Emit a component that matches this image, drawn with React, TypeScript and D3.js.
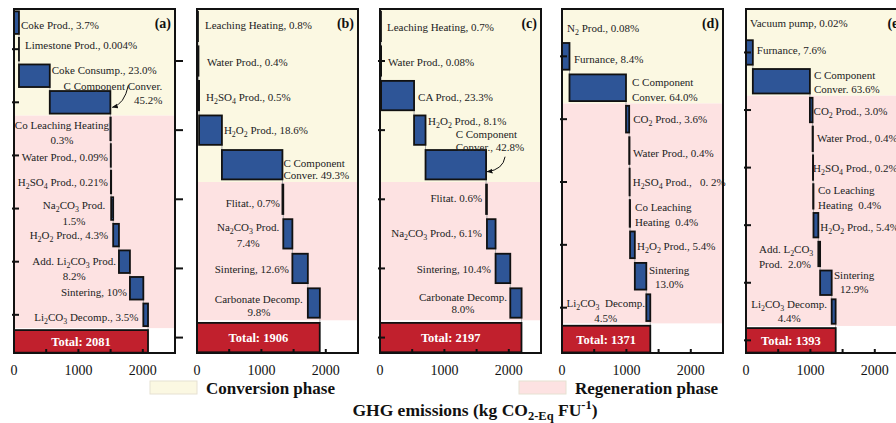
import React, { useEffect, useRef } from 'react';
import * as d3 from 'd3';

// ---- data ----
const aLabels = ['Coke Prod., 3.7%', 'Limestone Prod., 0.004%', 'Coke Consump., 23.0%', 'C Component Conver.\n45.2%', 'Co Leaching Heating\n0.3%', 'Water Prod., 0.09%', 'H2SO4 Prod., 0.21%', 'Na2CO3 Prod.\n1.5%', 'H2O2 Prod., 4.3%', 'Add. Li2CO3 Prod.\n8.2%', 'Sintering, 10%', 'Li2CO3 Decomp., 3.5%'];
const aPct = [3.7, 0.004, 23.0, 45.2, 0.3, 0.09, 0.21, 1.5, 4.3, 8.2, 10, 3.5];
const aTotal = 2081;
const aConv = 4;

const bLabels = ['Leaching Heating, 0.8%', 'Water Prod., 0.4%', 'H2SO4 Prod., 0.5%', 'H2O2 Prod., 18.6%', 'C Component\nConver. 49.3%', 'Flitat., 0.7%', 'Na2CO3 Prod.\n7.4%', 'Sintering, 12.6%', 'Carbonate Decomp.\n9.8%'];
const bPct = [0.8, 0.4, 0.5, 18.6, 49.3, 0.7, 7.4, 12.6, 9.8];
const bTotal = 1906;
const bConv = 5;

const cLabels = ['Leaching Heating, 0.7%', 'Water Prod., 0.08%', 'CA Prod., 23.3%', 'H2O2 Prod., 8.1%', 'C Component\nConver., 42.8%', 'Flitat. 0.6%', 'Na2CO3 Prod., 6.1%', 'Sintering, 10.4%', 'Carbonate Decomp.\n8.0%'];
const cPct = [0.7, 0.08, 23.3, 8.1, 42.8, 0.6, 6.1, 10.4, 8.0];
const cTotal = 2197;
const cConv = 5;

const dLabels = ['N2 Prod., 0.08%', 'Furnance, 8.4%', 'C Component\nConver. 64.0%', 'CO2 Prod., 3.6%', 'Water Prod., 0.4%', 'H2SO4 Prod.,   0. 2%', 'Co Leaching\nHeating  0.4%', 'H2O2 Prod., 5.4%', 'Sintering\n13.0%', 'Li2CO3  Decomp.\n4.5%'];
const dPct = [0.08, 8.4, 64.0, 3.6, 0.4, 0.2, 0.4, 5.4, 13.0, 4.5];
const dTotal = 1371;
const dConv = 3;

const eLabels = ['Vacuum pump, 0.02%', 'Furnance, 7.6%', 'C Component\nConver. 63.6%', 'CO2 Prod., 3.0%', 'Water Prod., 0.4%', 'H2SO4 Prod., 0.2%', 'Co Leaching\nHeating  0.4%', 'H2O2 Prod., 5.4%', 'Add. L2CO3\nProd.  2.0%', 'Sintering\n12.9%', 'Li2CO3 Decomp.\n4.4%'];
const ePct = [0.02, 7.6, 63.6, 3.0, 0.4, 0.2, 0.4, 5.4, 2.0, 12.9, 4.4];
const eTotal = 1393;
const eConv = 3;

const xTicks = [0, 500, 1000, 1500, 2000, 2500];
const xTickLabels = [0, 1000, 2000];

// ---- label placement: [side, gap, dy, lineHeight, align] ----
type Place = [string, number, number, number?, string?];
const aPlace: Place[] = [['R', 2, 6.4], ['R', 6, 0], ['R', 2, -1.7], ['M', 2.6, -12.3, 14, 'r'], ['L', 1.4, 0, 15, 'c'], ['L', 2.8, 5.6], ['L', 3, 4], ['L', 6, 0.5, 16, 'c'], ['L', 5, 4], ['L', 3, 3, 15, 'c'], ['L', 3, 7.5], ['L', 5, 6]];
const bPlace: Place[] = [['R', 7, 2.6], ['R', 8.5, 4.7], ['R', 7, 5.7], ['R', 2, 3.9], ['R', 1, 2, 12.5, 'l'], ['L', 2.4, 7.4], ['L', 4, -3.1, 16, 'c'], ['L', 3.4, 4.6], ['L', 5, 0, 13.3, 'c']];
const cPlace: Place[] = [['R', 6, 4.9], ['R', 7, 5.3], ['R', 4, 5.7], ['R', 2.5, -5.4], ['R', -30.4, -26.7, 13.3, 'l'], ['L', 4, 3], ['L', 5, 3.5], ['L', 4.6, 4.9], ['L', 3.3, -2.3, 12.7, 'c']];
const dPlace: Place[] = [['R', 5, 7.4], ['R', 4.5, 7], ['R', 6, -2, 15, 'l'], ['R', 4, 3.8], ['R', 3.5, 6.7], ['R', 3, 4.3], ['R', 5, -2.1, 14.3, 'l'], ['R', 2.2, 5.2], ['R', 2.7, -2.3, 14.3, 'c'], ['L', 1.3, -0.4, 14.3, 'c']];
const ePlace: Place[] = [['R', 4, 3.6], ['R', 4, 1.5], ['R', 4, -2.3, 14.3, 'l'], ['R', 1, 4.9], ['R', 4, 3.4], ['R', 0, 4.6], ['R', 4.5, -2.5, 15, 'l'], ['R', 2, 6], ['L', 5, -0.8, 14.7, 'l'], ['R', 2.3, -3.8, 14, 'c'], ['L', 4.7, -3.6, 14.3, 'c']];

const panels = [
  { tag: '(a)', labels: aLabels, pct: aPct, total: aTotal, nConv: aConv, place: aPlace, arrow: 3 },
  { tag: '(b)', labels: bLabels, pct: bPct, total: bTotal, nConv: bConv, place: bPlace, arrow: -1 },
  { tag: '(c)', labels: cLabels, pct: cPct, total: cTotal, nConv: cConv, place: cPlace, arrow: 4 },
  { tag: '(d)', labels: dLabels, pct: dPct, total: dTotal, nConv: dConv, place: dPlace, arrow: -1 },
  { tag: '(e)', labels: eLabels, pct: ePct, total: eTotal, nConv: eConv, place: ePlace, arrow: -1 },
];

const PANEL_X = [14, 197, 380, 562, 746];
const PW = 161;
const TOP = 9;
const BOTTOM = 353;
const FONT = '"Liberation Serif", "Times New Roman", serif';
const BLUE = '#2e5597';
const RED = '#c1202d';
const YELLOW = '#fbf8e2';
const PINK = '#fde2e2';

// digits right after a letter become subscripts (H2SO4, Li2CO3 ...)
function richText(sel: any, str: string) {
  const runs: { t: string; sub: boolean }[] = [];
  for (let i = 0; i < str.length; i++) {
    const ch = str[i];
    const sub = /\d/.test(ch) && i > 0 && /[A-Za-z]/.test(str[i - 1]);
    const last = runs[runs.length - 1];
    if (last && last.sub === sub) last.t += ch;
    else runs.push({ t: ch, sub });
  }
  let inSub = false;
  runs.forEach(r => {
    const ts = sel.append('tspan').text(r.t);
    if (r.sub) {
      ts.attr('dy', 3).attr('font-size', '0.72em');
      inSub = true;
    } else if (inSub) {
      ts.attr('dy', -3);
      inSub = false;
    }
  });
}

const App: React.FC = () => {
  const svgRef = useRef<SVGSVGElement>(null);

  useEffect(() => {
    if (!svgRef.current) return;
    const svg = d3.select(svgRef.current);
    svg.selectAll('*').remove();

    svg.append('defs').append('marker')
      .attr('id', 'arrowhead')
      .attr('viewBox', '0 0 10 10')
      .attr('refX', 9).attr('refY', 5)
      .attr('markerWidth', 6).attr('markerHeight', 6)
      .attr('orient', 'auto')
      .append('path').attr('d', 'M0,1 L10,5 L0,9 Z').attr('fill', '#111');

    panels.forEach((p, pi) => {
      const x0 = PANEL_X[pi];
      const x = d3.scaleLinear().domain([0, 2500]).range([x0, x0 + PW]);
      const n = p.labels.length + 1;
      const y = d3.scaleBand<number>().domain(d3.range(n)).range([TOP + 1, BOTTOM + 1])
        .paddingInner(0.15).paddingOuter(0.05);
      const step = y.step();
      const bh = y.bandwidth();
      const g = svg.append('g');

      const vals = p.pct.map(v => (v * p.total) / 100);
      const starts: number[] = [];
      let acc = 0;
      vals.forEach(v => { starts.push(acc); acc += v; });

      // phase backgrounds
      const split = (y(p.nConv) as number) - (step * 0.15) / 2;
      const regenEnd = (y(n - 1) as number) - (step * 0.15) / 2;
      g.append('rect').attr('x', x0).attr('y', TOP).attr('width', PW).attr('height', split - TOP).attr('fill', YELLOW);
      g.append('rect').attr('x', x0).attr('y', split).attr('width', PW).attr('height', regenEnd - split).attr('fill', PINK);

      // connectors
      vals.forEach((v, i) => {
        const xe = x(starts[i] + v);
        const y1 = (y(i) as number) + bh;
        const y2 = y(i + 1) as number;
        g.append('line').attr('x1', xe).attr('x2', xe).attr('y1', y1).attr('y2', y2)
          .attr('stroke', '#aaa').attr('stroke-width', 1);
      });

      // step bars
      g.selectAll('rect.step').data(vals).enter().append('rect')
        .attr('class', 'step')
        .attr('x', (d, i) => x(starts[i]))
        .attr('y', (d, i) => y(i) as number)
        .attr('width', d => Math.max(0, x(d) - x(0)))
        .attr('height', bh)
        .attr('fill', BLUE)
        .attr('stroke', '#111')
        .attr('stroke-width', 1.8);

      // total bar
      g.append('rect')
        .attr('x', x(0)).attr('y', y(n - 1) as number)
        .attr('width', x(p.total) - x(0)).attr('height', bh)
        .attr('fill', RED).attr('stroke', '#111').attr('stroke-width', 1.8);
      g.append('text')
        .attr('x', (x(0) + x(p.total)) / 2)
        .attr('y', (y(n - 1) as number) + bh / 2 + 4.5)
        .attr('text-anchor', 'middle')
        .attr('font-family', FONT).attr('font-weight', 'bold').attr('font-size', 12.5)
        .attr('fill', '#fff')
        .text(`Total: ${p.total}`);

      // labels
      p.labels.forEach((lab, i) => {
        const [side, gap, dy, lh = 14, align = 'c'] = p.place[i];
        const lines = lab.split('\n');
        const cy = (y(i) as number) + bh / 2;
        const xs = x(starts[i]);
        const xe = x(starts[i] + vals[i]);
        let lx = 0;
        let anchor = 'start';
        if (side === 'R') { lx = xe + gap; anchor = 'start'; }
        else if (side === 'L') { lx = xs - gap; anchor = 'end'; }
        else { lx = xe + gap; anchor = 'middle'; }
        const t1 = g.append('text')
          .attr('x', lx).attr('y', cy + dy)
          .attr('text-anchor', anchor)
          .attr('font-family', FONT).attr('font-size', 11).attr('fill', '#222')
          .style('white-space', 'pre');
        richText(t1, lines[0]);
        const w = (t1.node() as SVGTextElement).getComputedTextLength();
        const left = anchor === 'start' ? lx : anchor === 'end' ? lx - w : lx - w / 2;
        lines.slice(1).forEach((ln, k) => {
          let ax = left + w / 2;
          let an = 'middle';
          if (align === 'l') { ax = left; an = 'start'; }
          if (align === 'r') { ax = left + w; an = 'end'; }
          const t = g.append('text')
            .attr('x', ax).attr('y', cy + dy + lh * (k + 1))
            .attr('text-anchor', an)
            .attr('font-family', FONT).attr('font-size', 11).attr('fill', '#222')
            .style('white-space', 'pre');
          richText(t, ln);
        });
      });

      // curved arrow to the big conversion bar
      if (p.arrow >= 0) {
        const i = p.arrow;
        const xe = x(starts[i] + vals[i]);
        const cy = (y(i) as number) + bh / 2;
        const path = pi === 0
          ? `M${xe + 18},${cy - 17} Q${xe + 14},${cy + 2} ${xe + 2},${cy + 5}`
          : `M${xe + 19},${cy - 8} Q${xe + 17},${cy + 5} ${xe + 1},${cy + 7}`;
        g.append('path').attr('d', path).attr('fill', 'none')
          .attr('stroke', '#111').attr('stroke-width', 1)
          .attr('marker-end', 'url(#arrowhead)');
      }

      // frame
      g.append('rect').attr('x', x0).attr('y', TOP).attr('width', PW).attr('height', BOTTOM - TOP)
        .attr('fill', 'none').attr('stroke', '#111').attr('stroke-width', 2);

      // left ticks on every other row
      d3.range(1, n, 2).forEach(i => {
        const ty = (y(i) as number) + bh / 2;
        const tx1 = pi === 1 ? x0 - 22 : x0 - 2;
        const tx2 = pi === 1 ? x0 - 14 : x0 + 5;
        g.append('line').attr('x1', tx1).attr('x2', tx2).attr('y1', ty).attr('y2', ty)
          .attr('stroke', '#111').attr('stroke-width', 2);
      });

      // bottom ticks
      xTicks.forEach(t => {
        g.append('line').attr('x1', x(t)).attr('x2', x(t)).attr('y1', BOTTOM).attr('y2', BOTTOM - 4)
          .attr('stroke', '#111').attr('stroke-width', 2);
      });
      xTickLabels.forEach(t => {
        g.append('text').attr('x', x(t)).attr('y', 375)
          .attr('text-anchor', 'middle')
          .attr('font-family', FONT).attr('font-size', 14).attr('fill', '#111')
          .text(t);
      });

      // panel tag
      g.append('text').attr('x', x0 + PW - 4).attr('y', 28)
        .attr('text-anchor', 'end')
        .attr('font-family', FONT).attr('font-weight', 'bold').attr('font-size', 14).attr('fill', '#111')
        .text(p.tag);
    });

    // legend
    const legend = [
      { label: 'Conversion phase', color: YELLOW, x: 150 },
      { label: 'Regeneration phase', color: PINK, x: 519 },
    ];
    legend.forEach(l => {
      svg.append('rect').attr('x', l.x).attr('y', 381).attr('width', 47).attr('height', 13)
        .attr('fill', l.color).attr('stroke', '#e6e1d2').attr('stroke-width', 1);
      svg.append('text').attr('x', l.x + 56).attr('y', 394)
        .attr('font-family', FONT).attr('font-weight', 'bold').attr('font-size', 17).attr('fill', '#111')
        .text(l.label);
    });

    // axis title
    const title = svg.append('text').attr('x', 475).attr('y', 416)
      .attr('text-anchor', 'middle')
      .attr('font-family', FONT).attr('font-weight', 'bold').attr('font-size', 17.5).attr('fill', '#111');
    title.append('tspan').text('GHG emissions (kg CO');
    title.append('tspan').attr('dy', 4).attr('font-size', 12.5).text('2-Eq');
    title.append('tspan').attr('dy', -4).text(' FU');
    title.append('tspan').attr('dy', -7).attr('font-size', 12.5).text('-1');
    title.append('tspan').attr('dy', 7).text(')');
  }, []);

  return (
    <svg
      ref={svgRef}
      width={896}
      height={423}
      style={{ position: 'absolute', left: 0, top: 0, background: '#fff' }}
    />
  );
};

export default App;
